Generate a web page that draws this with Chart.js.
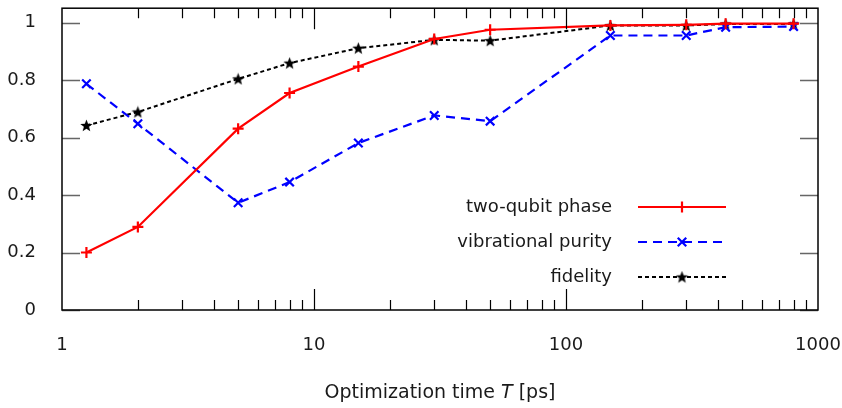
<!DOCTYPE html>
<html>
<head>
<meta charset="utf-8">
<script src="https://cdn.jsdelivr.net/npm/chart.js@4/dist/chart.umd.min.js"></script>
<style>
  html, body { margin: 0; padding: 0; background: #ffffff; }
  #wrap { width: 842px; height: 408px; }
</style>
</head>
<body>
<div id="wrap"><canvas id="c" width="842" height="408"></canvas></div>
<script>
// ---- data ----
const times = [1.25, 2, 5, 8, 15, 30, 50, 150, 300, 430, 800];
const twoQubitPhase = [0.200, 0.289, 0.631, 0.755, 0.847, 0.943, 0.975, 0.990, 0.992, 0.996, 0.996];
const vibrationalPurity = [0.787, 0.648, 0.373, 0.445, 0.581, 0.677, 0.657, 0.955, 0.955, 0.984, 0.986];
const fidelity = [0.642, 0.689, 0.804, 0.859, 0.911, 0.940, 0.937, 0.990, 0.990, 0.995, 0.995];
const seriesNames = ['two-qubit phase', 'vibrational purity', 'fidelity'];
const xTickValues = [1, 10, 100, 1000];
const yTickValues = [0, 0.2, 0.4, 0.6, 0.8, 1];
const xTitleParts = ['Optimization time ', 'T', ' [ps]'];

const FONT = '"DejaVu Sans", sans-serif';
const FONT_SIZE = 18;
const TITLE_SIZE = 19;
const TEXT = '#1a1a1a';

// five-pointed star marker
function makeStar(size) {
  const c = document.createElement('canvas');
  c.width = size; c.height = size;
  const g = c.getContext('2d');
  const cx = size / 2, cy = size / 2 + 0.5, R = size / 2, r = R * 0.42;
  g.beginPath();
  for (let i = 0; i < 10; i++) {
    const rad = (i % 2 === 0) ? R : r;
    const a = -Math.PI / 2 + i * Math.PI / 5;
    const px = cx + rad * Math.cos(a), py = cy + rad * Math.sin(a);
    if (i === 0) g.moveTo(px, py); else g.lineTo(px, py);
  }
  g.closePath();
  g.fillStyle = '#000';
  g.fill();
  return c;
}
const starImg = makeStar(13);

const toXY = (vals) => vals.map((v, i) => ({ x: times[i], y: v }));

const styles = [
  { color: '#ff0000', dash: [], width: 2.2, pointStyle: 'cross', radius: 5.5, pbw: 2.2 },
  { color: '#0000ff', dash: [9, 6], width: 2.2, pointStyle: 'crossRot', radius: 6, pbw: 2.2 },
  { color: '#000000', dash: [4, 3], width: 2, pointStyle: starImg, radius: 5, pbw: 1 }
];
const seriesValues = [twoQubitPhase, vibrationalPurity, fidelity];

const datasets = seriesValues.map((vals, k) => ({
  label: seriesNames[k],
  data: toXY(vals),
  borderColor: styles[k].color,
  backgroundColor: styles[k].color,
  borderWidth: styles[k].width,
  borderDash: styles[k].dash,
  pointStyle: styles[k].pointStyle,
  pointRadius: styles[k].radius,
  pointBorderWidth: styles[k].pbw,
  pointBorderColor: styles[k].color,
  pointBackgroundColor: styles[k].color,
  tension: 0,
  fill: false
}));

function noPad(scale) {
  scale.paddingLeft = 0; scale.paddingRight = 0;
  scale.paddingTop = 0; scale.paddingBottom = 0;
}

// frame, inward ticks, axis title and legend
const framePlugin = {
  id: 'frame',
  afterDatasetsDraw(chart) {
    const { ctx, chartArea: a, scales } = chart;
    const xs = scales.x, ys = scales.y;
    ctx.save();
    // y ticks (grey), both sides
    ctx.strokeStyle = '#666666';
    ctx.lineWidth = 1.5;
    yTickValues.forEach(v => {
      const py = Math.round(ys.getPixelForValue(v)) + 0.5;
      ctx.beginPath();
      ctx.moveTo(a.left, py); ctx.lineTo(a.left + 18, py);
      ctx.moveTo(a.right, py); ctx.lineTo(a.right - 18, py);
      ctx.stroke();
    });
    // x ticks, log minor & major, both sides
    ctx.strokeStyle = '#000000';
    ctx.lineWidth = 1.2;
    for (let d = 1; d < 1000; d *= 10) {
      for (let k = 1; k <= 9; k++) {
        const v = d * k;
        if (v <= xs.min || v >= xs.max) continue;
        const len = (k === 1) ? 21 : 10;
        const px = Math.round(xs.getPixelForValue(v)) + 0.5;
        ctx.beginPath();
        ctx.moveTo(px, a.bottom); ctx.lineTo(px, a.bottom - len);
        ctx.moveTo(px, a.top); ctx.lineTo(px, a.top + len);
        ctx.stroke();
      }
    }
    // frame
    ctx.lineWidth = 1.5;
    ctx.strokeStyle = '#000000';
    ctx.strokeRect(a.left, a.top, a.right - a.left, a.bottom - a.top);

    // x-axis title with italic T
    const fonts = [TITLE_SIZE + 'px ' + FONT, 'italic ' + TITLE_SIZE + 'px ' + FONT, TITLE_SIZE + 'px ' + FONT];
    let total = 0;
    const widths = xTitleParts.map((s, i) => { ctx.font = fonts[i]; const w = ctx.measureText(s).width; total += w; return w; });
    let tx = (a.left + a.right) / 2 - total / 2;
    ctx.fillStyle = TEXT;
    ctx.textAlign = 'left';
    ctx.textBaseline = 'middle';
    xTitleParts.forEach((s, i) => { ctx.font = fonts[i]; ctx.fillText(s, tx, 393); tx += widths[i]; });

    // legend (text right-aligned, sample on the right)
    ctx.font = FONT_SIZE + 'px ' + FONT;
    ctx.textAlign = 'right';
    ctx.textBaseline = 'middle';
    const textRight = 612, lineL = 638, lineR = 726, rowY = [207, 242, 277];
    seriesNames.forEach((name, k) => {
      const st = styles[k];
      const y = rowY[k];
      ctx.fillStyle = TEXT;
      ctx.fillText(name, textRight, y);
      ctx.beginPath();
      ctx.setLineDash(st.dash);
      ctx.strokeStyle = st.color;
      ctx.lineWidth = st.width;
      ctx.moveTo(lineL, y); ctx.lineTo(lineR, y);
      ctx.stroke();
      ctx.setLineDash([]);
      ctx.strokeStyle = st.color;
      ctx.fillStyle = st.color;
      Chart.helpers.drawPoint(ctx, {
        pointStyle: st.pointStyle, radius: st.radius, borderWidth: st.pbw, rotation: 0
      }, (lineL + lineR) / 2, y);
    });
    ctx.restore();
  }
};

Chart.defaults.font.family = FONT;
Chart.defaults.font.size = FONT_SIZE;
Chart.defaults.color = TEXT;

new Chart(document.getElementById('c'), {
  type: 'line',
  data: { datasets },
  options: {
    responsive: false,
    animation: false,
    devicePixelRatio: 1,
    layout: { padding: { left: 0, right: 24, top: 7, bottom: 0 } },
    plugins: { legend: { display: false }, tooltip: { enabled: false } },
    scales: {
      x: {
        type: 'logarithmic',
        min: 1, max: 1000,
        grid: { display: false, drawTicks: false },
        border: { display: false },
        afterBuildTicks(scale) { scale.ticks = xTickValues.map(v => ({ value: v })); },
        afterFit(scale) { scale.height = 98; noPad(scale); },
        ticks: {
          autoSkip: false, maxRotation: 0, padding: 25,
          callback: (v) => String(v)
        }
      },
      y: {
        type: 'linear',
        min: 0, max: 1.05,
        grid: { display: false, drawTicks: false },
        border: { display: false },
        afterBuildTicks(scale) { scale.ticks = yTickValues.map(v => ({ value: v })); },
        afterFit(scale) { scale.width = 62; noPad(scale); },
        ticks: { padding: 26, callback: (v) => String(Math.round(v * 10) / 10) }
      }
    }
  },
  plugins: [framePlugin]
});
</script>
</body>
</html>
